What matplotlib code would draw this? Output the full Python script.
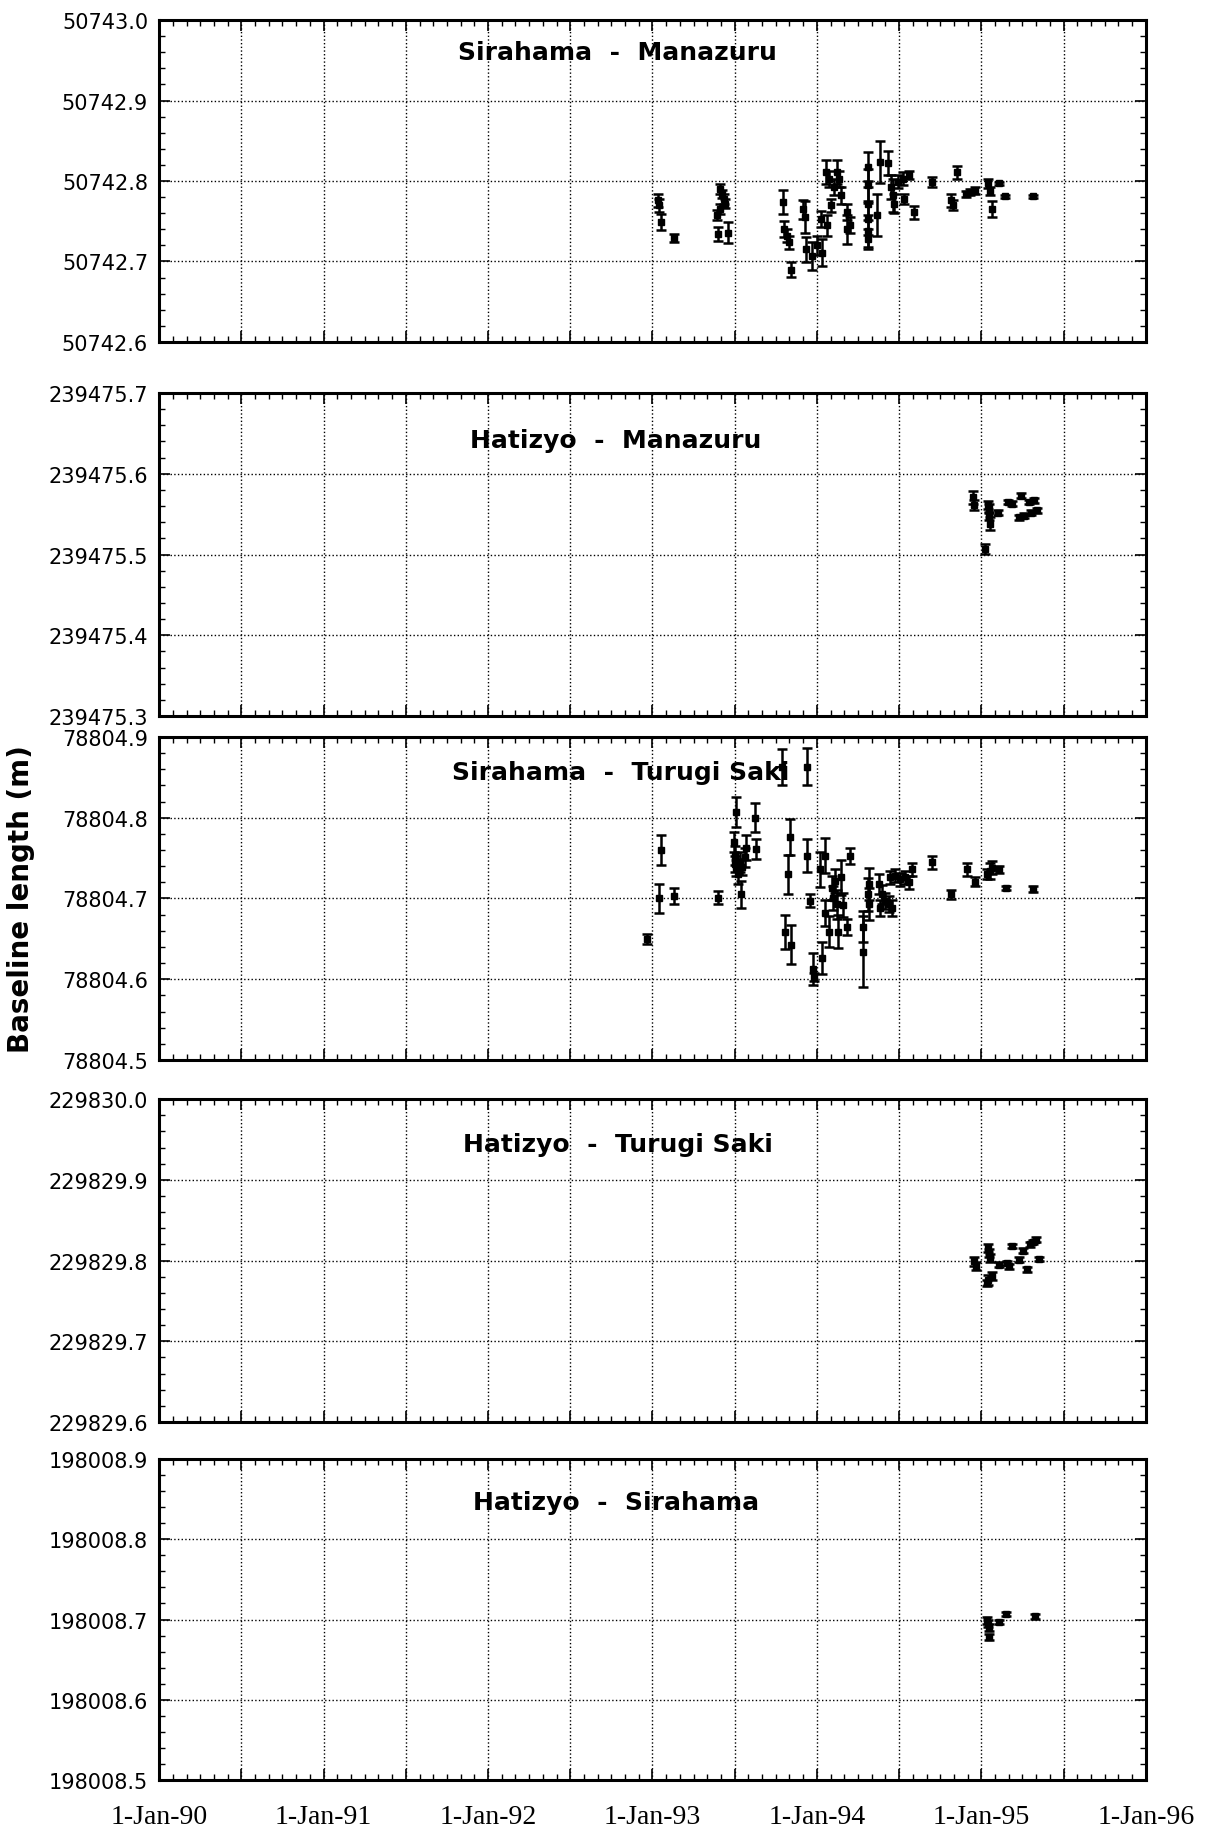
import numpy as np
import matplotlib
matplotlib.use("Agg")
import matplotlib.pyplot as plt
from matplotlib.ticker import MultipleLocator, FuncFormatter

# ---- data (decimal year, baseline length in m, 1-sigma error) ----
sm_t = [1993.033, 1993.037, 1993.051, 1993.128, 1993.393, 1993.413, 1993.413, 1993.423,
        1993.433, 1993.444, 1993.399, 1993.460, 1993.796, 1993.800, 1993.820, 1993.830,
        1993.844, 1993.918, 1993.926, 1993.932, 1993.973, 1994.003, 1994.034, 1994.023,
        1994.064, 1994.054, 1994.074, 1994.084, 1994.105, 1994.125, 1994.135, 1994.145,
        1994.186, 1994.186, 1994.202, 1994.308, 1994.308, 1994.308, 1994.308, 1994.308,
        1994.308, 1994.365, 1994.386, 1994.430, 1994.451, 1994.461, 1994.471, 1994.491,
        1994.522, 1994.532, 1994.563, 1994.589, 1994.699, 1994.817, 1994.827, 1994.853,
        1994.908, 1994.929, 1994.959, 1995.041, 1995.051, 1995.065, 1995.106, 1995.146,
        1995.315]
sm_v = [50742.776, 50742.770, 50742.749, 50742.729, 50742.758, 50742.765, 50742.790, 50742.784,
        50742.778, 50742.772, 50742.734, 50742.736, 50742.774, 50742.740, 50742.732, 50742.724,
        50742.690, 50742.765, 50742.755, 50742.715, 50742.707, 50742.720, 50742.711, 50742.753,
        50742.745, 50742.811, 50742.803, 50742.770, 50742.793, 50742.811, 50742.803, 50742.782,
        50742.761, 50742.740, 50742.745, 50742.818, 50742.795, 50742.772, 50742.753, 50742.738,
        50742.728, 50742.758, 50742.824, 50742.822, 50742.793, 50742.782, 50742.772, 50742.799,
        50742.803, 50742.778, 50742.807, 50742.761, 50742.799, 50742.776, 50742.770, 50742.811,
        50742.784, 50742.786, 50742.788, 50742.797, 50742.788, 50742.765, 50742.797, 50742.781,
        50742.781]
sm_e = [0.008, 0.008, 0.010, 0.005, 0.006, 0.006, 0.006, 0.005,
        0.006, 0.006, 0.009, 0.013, 0.015, 0.010, 0.008, 0.008,
        0.009, 0.012, 0.020, 0.016, 0.017, 0.012, 0.017, 0.010,
        0.013, 0.015, 0.010, 0.008, 0.010, 0.015, 0.010, 0.010,
        0.010, 0.018, 0.010, 0.018, 0.020, 0.020, 0.020, 0.020,
        0.012, 0.026, 0.026, 0.015, 0.015, 0.020, 0.012, 0.008,
        0.008, 0.006, 0.005, 0.008, 0.006, 0.008, 0.006, 0.008,
        0.004, 0.004, 0.004, 0.006, 0.005, 0.010, 0.002, 0.002,
        0.002]

hm_t = [1994.947, 1994.954, 1995.040, 1995.044, 1995.048, 1995.053, 1995.023, 1995.101,
        1995.164, 1995.185, 1995.242, 1995.290, 1995.320, 1995.227, 1995.258, 1995.300,
        1995.338]
hm_v = [239475.571, 239475.561, 239475.561, 239475.557, 239475.548, 239475.538, 239475.507,
        239475.552, 239475.565, 239475.563, 239475.573, 239475.565, 239475.567, 239475.546,
        239475.548, 239475.552, 239475.555]
hm_e = [0.008, 0.006, 0.005, 0.005, 0.005, 0.008, 0.006, 0.003,
        0.003, 0.003, 0.003, 0.003, 0.003, 0.003, 0.003, 0.003,
        0.003]

st_t = [1992.965, 1993.041, 1993.051, 1993.128, 1993.397, 1993.495, 1993.499, 1993.503,
        1993.511, 1993.519, 1993.530, 1993.544, 1993.560, 1993.570, 1993.509, 1993.540,
        1993.621, 1993.627, 1993.790, 1993.835, 1993.825, 1993.805, 1993.841, 1993.937,
        1993.937, 1993.961, 1993.978, 1993.984, 1994.018, 1994.049, 1994.049, 1994.033,
        1994.073, 1994.090, 1994.100, 1994.110, 1994.120, 1994.130, 1994.147, 1994.161,
        1994.181, 1994.202, 1994.283, 1994.279, 1994.310, 1994.314, 1994.318, 1994.375,
        1994.395, 1994.415, 1994.436, 1994.456, 1994.385, 1994.446, 1994.477, 1994.507,
        1994.538, 1994.558, 1994.578, 1994.701, 1994.813, 1994.914, 1994.961, 1995.037,
        1995.051, 1995.063, 1995.108, 1995.149, 1995.312]
st_v = [78804.650, 78804.700, 78804.760, 78804.703, 78804.701, 78804.770, 78804.753, 78804.743,
        78804.738, 78804.730, 78804.745, 78804.739, 78804.751, 78804.763, 78804.807, 78804.705,
        78804.800, 78804.761, 78804.863, 78804.776, 78804.730, 78804.659, 78804.643, 78804.863,
        78804.753, 78804.697, 78804.613, 78804.603, 78804.736, 78804.753, 78804.682, 78804.626,
        78804.659, 78804.713, 78804.701, 78804.722, 78804.693, 78804.659, 78804.726, 78804.692,
        78804.665, 78804.753, 78804.665, 78804.634, 78804.705, 78804.693, 78804.718, 78804.718,
        78804.705, 78804.697, 78804.693, 78804.688, 78804.688, 78804.726, 78804.728, 78804.724,
        78804.726, 78804.720, 78804.736, 78804.745, 78804.705, 78804.736, 78804.721, 78804.730,
        78804.734, 78804.738, 78804.736, 78804.713, 78804.712]
st_e = [0.006, 0.018, 0.019, 0.010, 0.008, 0.012, 0.012, 0.010,
        0.010, 0.012, 0.012, 0.010, 0.012, 0.015, 0.019, 0.017,
        0.018, 0.012, 0.022, 0.022, 0.024, 0.021, 0.024, 0.023,
        0.020, 0.008, 0.020, 0.005, 0.022, 0.022, 0.016, 0.020,
        0.019, 0.015, 0.015, 0.015, 0.018, 0.020, 0.022, 0.015,
        0.010, 0.010, 0.019, 0.044, 0.020, 0.020, 0.020, 0.012,
        0.012, 0.010, 0.010, 0.010, 0.010, 0.008, 0.008, 0.008,
        0.008, 0.008, 0.008, 0.008, 0.006, 0.008, 0.006, 0.006,
        0.010, 0.008, 0.004, 0.002, 0.004]

ht_t = [1994.958, 1994.968, 1995.042, 1995.046, 1995.053, 1995.042, 1995.032, 1995.063,
        1995.105, 1995.158, 1995.168, 1995.189, 1995.231, 1995.252, 1995.277, 1995.294,
        1995.315, 1995.332, 1995.353]
ht_v = [229829.799, 229829.793, 229829.816, 229829.809, 229829.803, 229829.776, 229829.772,
        229829.781, 229829.795, 229829.797, 229829.793, 229829.818, 229829.801, 229829.812,
        229829.789, 229829.820, 229829.823, 229829.826, 229829.802]
ht_e = [0.006, 0.005, 0.005, 0.005, 0.005, 0.006, 0.004, 0.005,
        0.003, 0.003, 0.003, 0.003, 0.003, 0.003, 0.003, 0.003,
        0.003, 0.003, 0.003]

hs_t = [1995.036, 1995.040, 1995.046, 1995.046, 1995.109, 1995.151, 1995.326]
hs_v = [198008.699, 198008.695, 198008.690, 198008.678, 198008.697, 198008.707, 198008.704]
hs_e = [0.004, 0.004, 0.004, 0.004, 0.003, 0.003, 0.003]

panels = [
    ("Sirahama  -  Manazuru", sm_t, sm_v, sm_e, 50742.6, (0.465, 0.90)),
    ("Hatizyo  -  Manazuru", hm_t, hm_v, hm_e, 239475.3, (0.463, 0.856)),
    ("Sirahama  -  Turugi Saki", st_t, st_v, st_e, 78804.5, (0.468, 0.89)),
    ("Hatizyo  -  Turugi Saki", ht_t, ht_v, ht_e, 229829.6, (0.465, 0.862)),
    ("Hatizyo  -  Sirahama", hs_t, hs_v, hs_e, 198008.5, (0.463, 0.865)),
]
year_labels = ["1-Jan-90", "1-Jan-91", "1-Jan-92", "1-Jan-93", "1-Jan-94", "1-Jan-95", "1-Jan-96"]

# axes rectangles in figure fraction (bottom, top)
rows = [(0.8127, 0.9885), (0.6084, 0.7848), (0.4205, 0.597), (0.2228, 0.3992), (0.0273, 0.2026)]
left, right = 0.131, 0.943

fig = plt.figure(figsize=(12.15, 18.31), dpi=100)

for i, (name, t, v, e, ybot, tpos) in enumerate(panels):
    b, tp = rows[i]
    ax = fig.add_axes([left, b, right - left, tp - b])
    ax.errorbar(t, v, yerr=e, fmt="s", color="black", ms=5, elinewidth=1.8,
                capsize=3.5, capthick=1.8)
    ax.set_xlim(1990, 1996)
    ax.set_ylim(ybot, ybot + 0.4)
    ax.xaxis.set_major_locator(MultipleLocator(0.5))
    ax.xaxis.set_minor_locator(MultipleLocator(1 / 12))
    ax.yaxis.set_major_locator(MultipleLocator(0.1))
    ax.yaxis.set_minor_locator(MultipleLocator(0.02))
    ax.yaxis.set_major_formatter(FuncFormatter(lambda y, p: "%.1f" % y))
    if i == len(panels) - 1:
        ax.xaxis.set_major_formatter(FuncFormatter(
            lambda x, p: year_labels[int(round(x)) - 1990] if abs(x - round(x)) < 1e-6 else ""))
    else:
        ax.xaxis.set_major_formatter(FuncFormatter(lambda x, p: ""))
    ax.tick_params(which="both", direction="in", top=True, right=True, color="black")
    ax.tick_params(which="major", length=8, width=1.2)
    ax.tick_params(which="minor", length=4, width=1.0)
    ax.tick_params(axis="y", labelsize=15, pad=8)
    ax.tick_params(axis="x", labelsize=20, pad=17, labelfontfamily="Liberation Serif")
    ax.grid(True, which="major", linestyle=":", color="black", linewidth=1.0)
    for sp in ax.spines.values():
        sp.set_linewidth(2.2)
    ax.text(tpos[0], tpos[1], name, transform=ax.transAxes, ha="center", va="center",
            fontsize=18, fontweight="bold")

fig.text(0.017, 0.509, "Baseline length (m)", rotation=90, ha="center", va="center",
         fontsize=20, fontweight="bold")

fig.savefig("out.png", dpi=100)
